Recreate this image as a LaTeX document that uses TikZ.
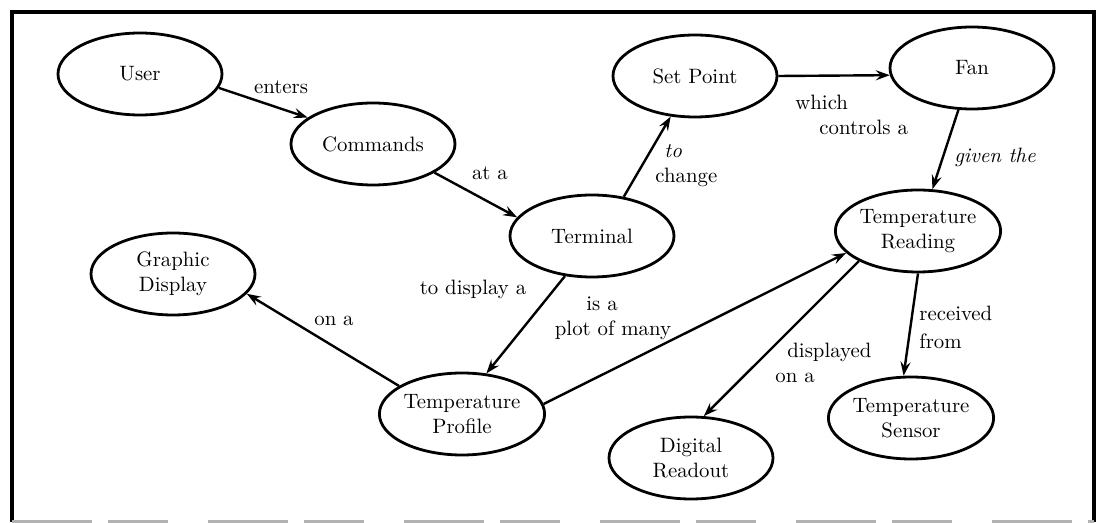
\documentclass[tikz,border=0pt]{standalone}
\usetikzlibrary{shapes.geometric,arrows.meta}
\begin{document}
\begin{tikzpicture}[x=0.5pt,y=-0.5pt,
  txt/.style={font=\fontsize{10.4}{12.5}\selectfont},
  concept/.style={ellipse,draw,line width=1.4pt,inner sep=0pt,
    minimum width=82pt,minimum height=41pt,align=center,txt},
  link/.style={line width=1.2pt,-{Stealth[length=7pt,width=5pt,inset=2.5pt]}},
  lbl/.style={inner sep=0pt,txt}]
\useasboundingbox (0,0) rectangle (1098,523);

% frame
\draw[line width=2.3pt] (12,522) -- (12,12) -- (1094,12) -- (1094,522);
\draw[gray!60,line width=1.6pt,dash pattern=on 40pt off 8pt on 30pt off 20pt] (12,522) -- (1094,522);

% concepts
\node[concept] (user)     at (140,74)  {User};
\node[concept] (commands) at (373,144) {Commands};
\node[concept] (terminal) at (592,236) {Terminal};
\node[concept] (setpoint) at (695,76)  {Set Point};
\node[concept] (fan)      at (972,68)  {Fan};
\node[concept] (reading)  at (918,231) {Temperature\\Reading};
\node[concept] (graphic)  at (173,274) {Graphic\\Display};
\node[concept] (profile)  at (462,414) {Temperature\\Profile};
\node[concept] (digital)  at (691,458) {Digital\\Readout};
\node[concept] (sensor)   at (911,418) {Temperature\\Sensor};

% relations
\draw[link] (user.-10)      -- (commands.158);
\draw[link] (commands.-25)  -- (terminal.166);
\draw[link] (terminal.51)   -- (setpoint.239);
\draw[link] (setpoint.0)    -- (fan.185);
\draw[link] (fan.252)       -- (reading.71);
\draw[link] (terminal.236)  -- (profile.59);
\draw[link] (profile.156)   -- (graphic.-15);
\draw[link] (profile.7)     -- (reading.197);
\draw[link] (reading.207)   -- (digital.73);
\draw[link] (reading.-90)   -- (sensor.100);

% relation labels
\node[lbl] (lenters)  at (281,87)  {enters};
\node[lbl] (lat)      at (490,173) {at a};
\node[lbl,anchor=west,align=left] (lchange) at (655,166) {\hspace*{4.5pt}\itshape to\\change};
\node[lbl,anchor=west,align=left] (lcontrol) at (795,115) {which\\\hspace*{12pt}controls a};
\node[lbl] (lgiven)   at (995,157) {\itshape given the};
\node[lbl] (ldisplay) at (473,289) {to display a};
\node[lbl] (lon)      at (334,321) {on a};
\node[lbl,align=center] (lplot) at (613,318) {is a\hspace*{11pt}\\plot of many};
\node[lbl,anchor=west,align=left] (lshown) at (775,363) {\hspace*{6pt}displayed\\on a};
\node[lbl,anchor=west,align=left,font=\fontsize{10.4}{14}\selectfont] (lfrom) at (919,327) {received\\from};
\end{tikzpicture}
\end{document}
